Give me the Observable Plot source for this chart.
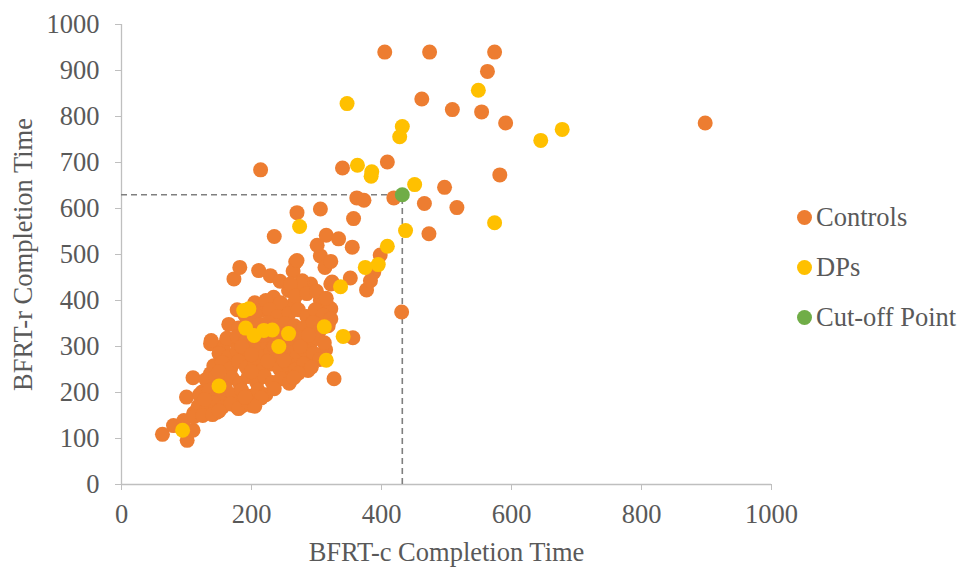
<!DOCTYPE html>
<html><head><meta charset="utf-8">
<script src="https://cdn.jsdelivr.net/npm/d3@7"></script>
<script src="https://cdn.jsdelivr.net/npm/@observablehq/plot@0.6"></script>
<style>
body{margin:0;background:#fff;}
#wrap{position:relative;width:962px;height:567px;font-family:"Liberation Serif","Times New Roman",serif;}
#chart{position:absolute;left:0;top:0;}
#legend{position:absolute;left:797px;top:192px;color:#595959;font-size:26.5px;}
.item{display:flex;align-items:center;height:50px;}
.sw{width:15px;height:15px;border-radius:50%;margin-right:4px;flex:none;}
</style></head>
<body><div id="wrap"><div id="chart"></div><div id="legend"></div></div>
<script>
// Controls: [BFRT-c, BFRT-r]
const controls = [
  [63,109],[80,128],[96,139],[101,96],[110,118],[111,155],[100,190],[110,232],[137,241],[124,201],
  [147,157],[168,183],[178,168],[137,306],[157,302],[138,313],[165,348],[173,313],[157,291],[178,380],
  [173,447],[182,472],[211,465],[229,454],[244,442],[268,484],[264,464],[306,497],[313,472],[322,485],
  [355,516],[301,520],[315,542],[334,534],[235,539],[270,591],[306,599],[357,578],[362,623],[373,618],
  [419,623],[466,611],[516,602],[497,646],[582,673],[409,701],[340,688],[214,684],[405,940],[474,940],
  [574,940],[563,898],[462,838],[509,815],[554,810],[591,786],[898,786],[473,545],[388,461],[398,499],
  [431,375],[377,423],[356,319],[314,293],[327,230],[287,248],[250,235],[352,449],[383,443],[324,440],
  [291,436],[278,443],[322,436],[275,436],[257,422],[234,407],[306,400],[319,385],[214,378],[250,378],
  [265,393],[260,436],[270,487],[322,382],[300,350],[290,313],[285,276],[185,170],[200,172],
  [205,395],[222,400],[245,395],[268,410],[285,415],[300,420],[315,405],
  [190,368],[205,372],[228,380],[240,365],[258,372],[272,380],[285,365],[298,380],[310,368],[322,360],
  [180,340],[198,355],[212,348],[226,352],[238,345],[252,350],[266,345],[280,340],[295,352],[305,335],[318,345],
  [162,318],[178,322],[190,310],[205,315],[218,305],[232,318],[246,312],[262,305],[276,318],[290,305],[302,318],[312,308],
  [150,285],[165,278],[178,290],[190,275],[205,290],[218,278],[230,292],[245,282],[258,290],[270,278],[282,292],[296,285],[305,272],
  [142,258],[155,265],[168,252],[180,268],[192,255],[205,262],[218,250],[230,262],[243,252],[256,262],[268,250],[280,262],[292,255],[272,242],
  [130,228],[145,235],[158,222],[170,232],[182,220],[195,235],[208,222],[220,235],[232,222],[245,230],[258,220],[265,232],[150,245],[200,245],
  [120,195],[135,205],[148,192],[160,208],[172,195],[185,205],[198,192],[210,205],[222,195],[235,208],[215,188],
  [118,170],[130,162],[142,178],[155,168],[168,175],[180,165],[195,178],[205,170],[128,185],[190,190],
  [112,148],[125,150],[140,152],[150,160],
  [185,300],[200,282],[215,325],[235,300],[250,270],[262,318],[275,300],[288,325],[225,268],[240,328]
];
// DPs: [BFRT-c, BFRT-r]
const dps = [
  [94,118],[150,214],[188,378],[196,382],[191,340],[204,324],[219,335],[232,336],[242,300],[257,328],
  [274,561],[312,343],[341,322],[315,270],[337,430],[375,472],[395,478],[409,518],[437,552],[451,652],
  [432,778],[428,756],[385,680],[384,670],[363,694],[347,828],[549,857],[645,748],[678,772],[574,569]
];
// Cut-off point: [BFRT-c, BFRT-r]
const cutoff = [[432,630]];
const xTicks = [0,200,400,600,800,1000];
const yTicks = [0,100,200,300,400,500,600,700,800,900,1000];
const seriesNames = ["Controls","DPs","Cut-off Point"];
const seriesColors = ["#ED7D31","#FFC000","#70AD47"];

const chart = Plot.plot({
  width: 800, height: 567,
  marginLeft: 121, marginRight: 29, marginTop: 24, marginBottom: 83,
  style: {fontFamily: "'Liberation Serif','Times New Roman',serif", fontSize: "26.5px", background: "white", color: "#595959"},
  x: {domain: [0,1000]},
  y: {domain: [0,1000]},
  marks: [
    Plot.axisX({ticks: xTicks, tickFormat: d => String(d), tickSize: 6, tickPadding: 14, stroke: "#bfbfbf", fill: "#595959",
      label: "BFRT-c Completion Time", labelArrow: "none", labelAnchor: "center", labelOffset: 76}),
    Plot.axisY({ticks: yTicks, tickFormat: d => String(d), tickSize: 6, tickPadding: 16, stroke: "#bfbfbf", fill: "#595959",
      label: "BFRT-r Completion Time", labelArrow: "none", labelAnchor: "center", labelOffset: 108}),
    Plot.ruleX([0], {stroke: "#bfbfbf", strokeWidth: 1.3}),
    Plot.ruleY([0], {stroke: "#bfbfbf", strokeWidth: 1.3}),
    Plot.ruleY(cutoff, {y: d => d[1], x1: d => 0, x2: d => d[0], stroke: "#7f7f7f", strokeWidth: 1.6, strokeDasharray: "6,4"}),
    Plot.ruleX(cutoff, {x: d => d[0], y1: d => 0, y2: d => d[1], stroke: "#7f7f7f", strokeWidth: 1.6, strokeDasharray: "6,4"}),
    Plot.dot(controls, {x: d => d[0], y: d => d[1], r: 7.5, fill: seriesColors[0]}),
    Plot.dot(dps, {x: d => d[0], y: d => d[1], r: 7.5, fill: seriesColors[1]}),
    Plot.dot(cutoff, {x: d => d[0], y: d => d[1], r: 7.5, fill: seriesColors[2]})
  ]
});
document.getElementById("chart").appendChild(chart);

const legend = document.getElementById("legend");
seriesNames.forEach((name, i) => {
  const item = document.createElement("div");
  item.className = "item";
  const sw = document.createElement("span");
  sw.className = "sw";
  sw.style.background = seriesColors[i];
  const label = document.createElement("span");
  label.textContent = name;
  item.appendChild(sw);
  item.appendChild(label);
  legend.appendChild(item);
});
</script>
</body></html>
